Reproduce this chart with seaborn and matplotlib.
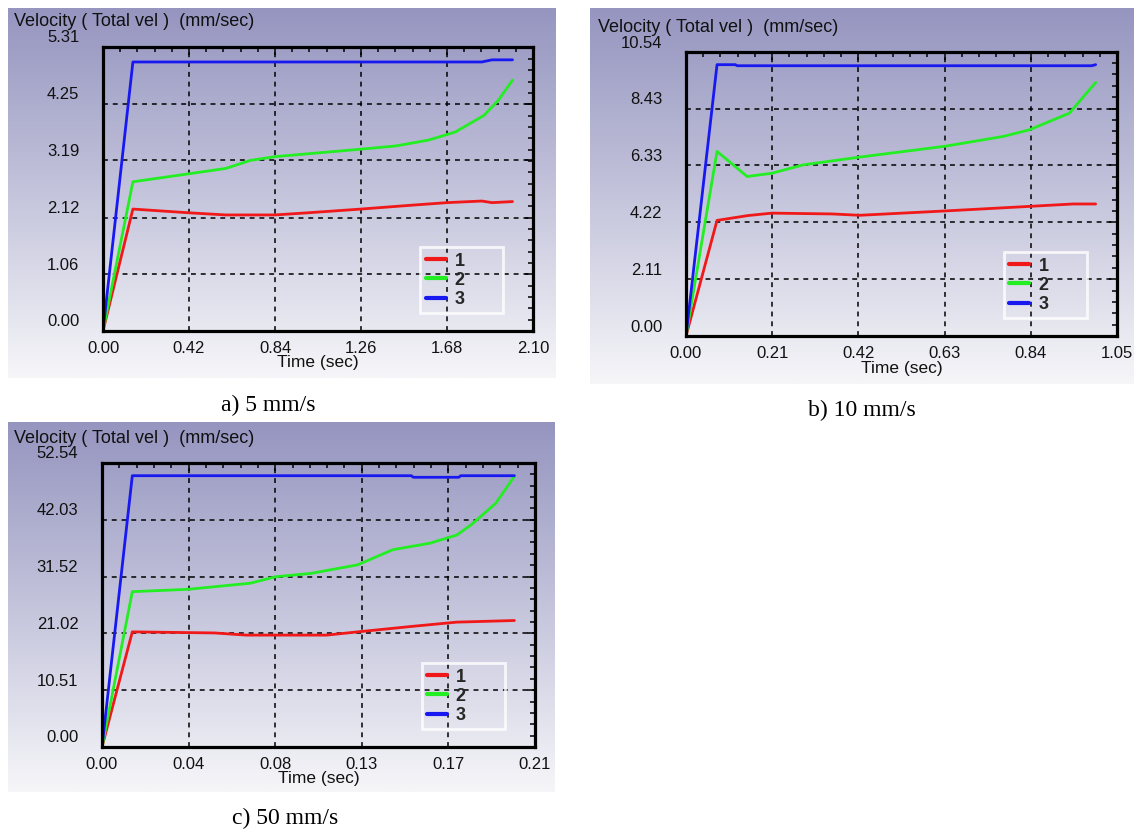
import numpy as np
import pandas as pd
import matplotlib
matplotlib.use("Agg")
import matplotlib.pyplot as plt
import matplotlib.transforms as mtransforms
from matplotlib.ticker import AutoMinorLocator, FixedLocator
from matplotlib.colors import LinearSegmentedColormap
import seaborn as sns

# ---------------- data ----------------
SERIES = ["1", "2", "3"]
COLORS = ["#f01818", "#22ee22", "#1818f0"]

# a) 5 mm/s
A_T1 = [0, 0.146, 0.42, 0.60, 0.84, 1.00, 1.26, 1.50, 1.68, 1.85, 1.90, 2.00]
A_V1 = [0, 2.28, 2.21, 2.17, 2.17, 2.21, 2.28, 2.35, 2.40, 2.43, 2.40, 2.42]
A_T2 = [0, 0.146, 0.42, 0.60, 0.72, 0.84, 1.05, 1.26, 1.43, 1.59, 1.72, 1.86, 1.93, 2.00]
A_V2 = [0, 2.79, 2.94, 3.04, 3.19, 3.26, 3.33, 3.40, 3.46, 3.57, 3.72, 4.03, 4.31, 4.69]
A_T3 = [0, 0.146, 1.85, 1.90, 2.00]
A_V3 = [0, 5.03, 5.03, 5.07, 5.07]
A_YT = ["0.00", "1.06", "2.12", "3.19", "4.25", "5.31"]
A_XT = ["0.00", "0.42", "0.84", "1.26", "1.68", "2.10"]

# b) 10 mm/s
B_T1 = [0, 0.0756, 0.151, 0.209, 0.356, 0.423, 0.63, 0.836, 0.943, 0.998]
B_V1 = [0, 4.29, 4.47, 4.56, 4.53, 4.48, 4.64, 4.81, 4.90, 4.90]
B_T2 = [0, 0.0756, 0.149, 0.209, 0.285, 0.423, 0.63, 0.774, 0.836, 0.934, 0.998]
B_V2 = [0, 6.85, 5.92, 6.04, 6.35, 6.64, 7.04, 7.41, 7.65, 8.27, 9.41]
B_T3 = [0, 0.0756, 0.12, 0.125, 0.988, 0.998]
B_V3 = [0, 10.07, 10.07, 10.03, 10.03, 10.07]
B_YT = ["0.00", "2.11", "4.22", "6.33", "8.43", "10.54"]
B_XT = ["0.00", "0.21", "0.42", "0.63", "0.84", "1.05"]

# c) 50 mm/s
C_T1 = [0, 0.0147, 0.0546, 0.070, 0.109, 0.124, 0.150, 0.172, 0.200]
C_V1 = [0, 21.3, 21.1, 20.7, 20.7, 21.3, 22.3, 23.1, 23.4]
C_T2 = [0, 0.0147, 0.0416, 0.0719, 0.0842, 0.101, 0.124, 0.141, 0.159, 0.172, 0.179, 0.191, 0.200]
C_V2 = [0, 28.74, 29.17, 30.3, 31.5, 32.1, 33.7, 36.5, 37.7, 39.2, 41.1, 45.1, 50.1]
C_T3 = [0, 0.0147, 0.150, 0.151, 0.173, 0.174, 0.200]
C_V3 = [0, 50.19, 50.19, 49.9, 49.9, 50.19, 50.19]
C_YT = ["0.00", "10.51", "21.02", "31.52", "42.03", "52.54"]
C_XT = ["0.00", "0.04", "0.08", "0.13", "0.17", "0.21"]

CAPTIONS = ["a) 5 mm/s", "b) 10 mm/s", "c) 50 mm/s"]
YLABEL = "Velocity ( Total vel )  (mm/sec)"
XLABEL = "Time (sec)"

# ---------------- figure ----------------
W, H = 1134, 833
DPI = 100
sns.set_theme(style="white")
plt.rcParams["font.family"] = ["Liberation Sans", "DejaVu Sans"]
fig = plt.figure(figsize=(W / DPI, H / DPI), dpi=DPI)
fig.patch.set_facecolor("white")


def rect(x0, y0, x1, y1):
    return [x0 / W, 1 - y1 / H, (x1 - x0) / W, (y1 - y0) / H]


grad = np.linspace(0, 1, 256)[:, None]
bgcmap = LinearSegmentedColormap.from_list("bg", ["#9595c0", "#c4c4dc", "#f6f6f9"])

panels = [
    dict(bg=(8, 8, 556, 378), ax=(103, 47, 533, 331), title=(14, 21), cap=(268, 405),
         data=[(A_T1, A_V1), (A_T2, A_V2), (A_T3, A_V3)], yt=A_YT, xt=A_XT, xlab=363),
    dict(bg=(590, 8, 1134, 384), ax=(686, 52, 1117, 336), title=(598, 27), cap=(862, 410),
         data=[(B_T1, B_V1), (B_T2, B_V2), (B_T3, B_V3)], yt=B_YT, xt=B_XT, xlab=368),
    dict(bg=(8, 422, 555, 792), ax=(102, 463, 535, 747), title=(14, 438), cap=(285, 818),
         data=[(C_T1, C_V1), (C_T2, C_V2), (C_T3, C_V3)], yt=C_YT, xt=C_XT, xlab=779),
]

for i, p in enumerate(panels):
    # gradient background panel
    bax = fig.add_axes(rect(*p["bg"]), zorder=0)
    bax.imshow(grad, aspect="auto", cmap=bgcmap, extent=[0, 1, 0, 1], origin="upper")
    bax.set_axis_off()

    ax = fig.add_axes(rect(*p["ax"]), zorder=2)
    ax.patch.set_alpha(0)

    rows = []
    for s, (t, v) in zip(SERIES, p["data"]):
        for tt, vv in zip(t, v):
            rows.append({"t": tt, "v": vv, "s": s})
    df = pd.DataFrame(rows)
    sns.lineplot(data=df, x="t", y="v", hue="s", hue_order=SERIES,
                 palette=dict(zip(SERIES, COLORS)), estimator=None, sort=False,
                 lw=2.0, ax=ax, legend=True)

    yvals = [float(s) for s in p["yt"]]
    xmax = float(p["xt"][-1])
    xvals = list(np.linspace(0, xmax, 6))
    ax.set_xlim(0, xmax)
    ax.set_ylim(0, yvals[-1])
    ax.yaxis.set_major_locator(FixedLocator(yvals))
    ax.xaxis.set_major_locator(FixedLocator(xvals))
    ax.set_yticklabels(p["yt"])
    ax.set_xticklabels(p["xt"])
    ax.xaxis.set_minor_locator(AutoMinorLocator(5))
    ax.yaxis.set_minor_locator(AutoMinorLocator(5))
    ax.set_xlabel("")
    ax.set_ylabel("")

    ax.grid(which="major", color="black", linestyle=(0, (3.2, 3.2)), linewidth=1.1)
    ax.tick_params(which="both", direction="in", top=True, right=True,
                   color="black", width=1.1, labelsize=12, labelcolor="#111111")
    ax.tick_params(which="major", length=6)
    ax.tick_params(which="minor", length=3.5)
    ax.tick_params(axis="y", pad=17)
    ax.tick_params(axis="x", pad=7)
    for sp in ax.spines.values():
        sp.set_visible(True)
        sp.set_color("black")
        sp.set_linewidth(2.3)

    handles, labels = ax.get_legend_handles_labels()
    leg = ax.legend(handles, labels, loc="lower left",
                    bbox_to_anchor=(0.738, 0.062, 0.193, 0.2), mode="expand",
                    frameon=True, fancybox=False,
                    prop={"weight": "bold", "size": 13},
                    handlelength=1.1, handletextpad=0.5, labelspacing=0.12,
                    borderpad=0.3, borderaxespad=0)
    leg.get_frame().set_facecolor("none")
    leg.get_frame().set_edgecolor("white")
    leg.get_frame().set_linewidth(2.0)
    for lh in leg.get_lines():
        lh.set_linewidth(3)

    # texts
    tx, ty = p["title"]
    fig.text(tx / W, 1 - ty / H, YLABEL, ha="left", va="center", fontsize=13,
             color="#111111", zorder=3)
    ax0 = p["ax"]
    fig.text(((ax0[0] + ax0[2]) / 2) / W, 1 - p["xlab"] / H, XLABEL, ha="center",
             va="center", fontsize=12.5, color="#111111", zorder=3)
    cx, cy = p["cap"]
    fig.text(cx / W, 1 - cy / H, CAPTIONS[i], ha="center", va="center", fontsize=17,
             family=["Liberation Serif", "DejaVu Serif"], color="black")

    # tick labels of the y axis sit slightly above their grid lines
    off = mtransforms.ScaledTranslation(0, 0.105, fig.dpi_scale_trans)
    for lab in ax.get_yticklabels():
        lab.set_transform(lab.get_transform() + off)

fig.savefig("out.png", dpi=DPI)
